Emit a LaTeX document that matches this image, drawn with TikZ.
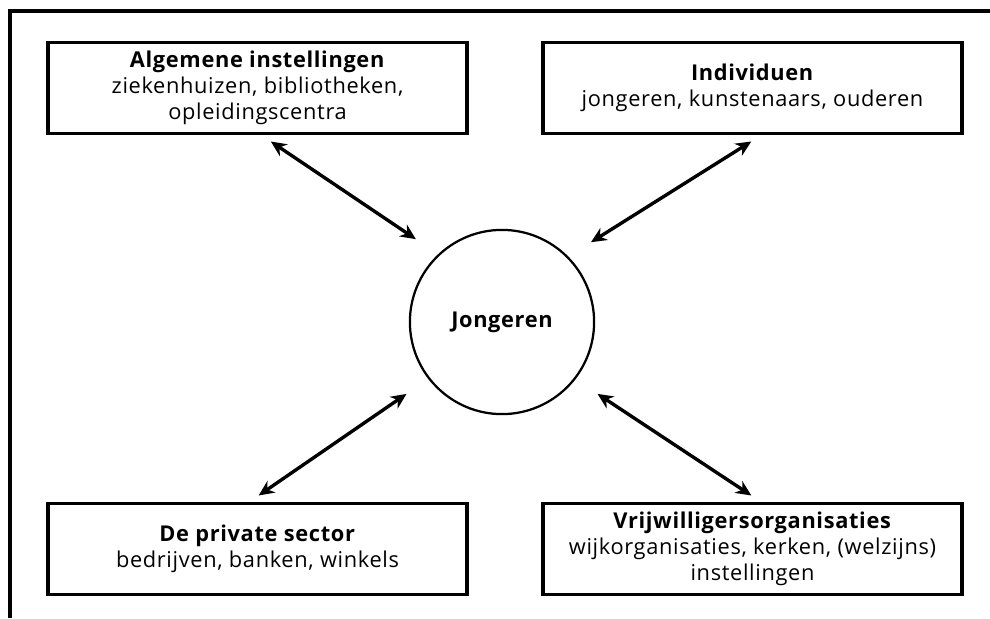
\documentclass[tikz,border=0pt]{standalone}
\usepackage{fontspec}
\setmainfont[LetterSpace=3]{Open Sans}
\usetikzlibrary{arrows.meta}

\tikzset{
    groep/.style={draw,line width=2.2pt,minimum width=298pt,minimum height=65pt,
        align=center,inner sep=2pt,outer sep=5pt,font=\fontsize{15.5}{18.4}\selectfont},
    kern/.style={draw,circle,line width=1.6pt,minimum size=131pt,inner sep=0pt,
        outer sep=18.5pt,font=\fontsize{15.5}{18.4}\selectfont\bfseries},
    link/.style={{Stealth[length=11pt,width=10pt,inset=3.5pt]}-{Stealth[length=11pt,width=10pt,inset=3.5pt]},
        line width=2.4pt,shorten <=1pt,shorten >=1pt}
}

\begin{document}
\begin{tikzpicture}[x=0.025cm,y=-0.025cm]
\useasboundingbox (0,0) rectangle (990,618);
\draw[line width=2.2pt] (10,618) -- (10,11) -- (990,11);

\node[kern] (jong) at (502,322) {Jongeren};

\node[groep] (alg) at (257.5,88) {\textbf{Algemene instellingen}\\
    ziekenhuizen, bibliotheken,\\ opleidingscentra};
\node[groep] (ind) at (752.5,88) {\textbf{Individuen}\\
    jongeren, kunstenaars, ouderen};
\node[groep] (priv) at (257.5,549) {\textbf{De private sector}\\
    bedrijven, banken, winkels};
\node[groep] (vrij) at (752.5,549) {\textbf{Vrijwilligersorganisaties}\\
    wijkorganisaties, kerken, (welzijns)\\ instellingen};

\draw[link] (alg.-77) -- (jong.136);
\draw[link] (ind.south) -- (jong.42);
\draw[link] (priv.north) -- (jong.217);
\draw[link] (vrij.north) -- (jong.323);
\end{tikzpicture}
\end{document}
